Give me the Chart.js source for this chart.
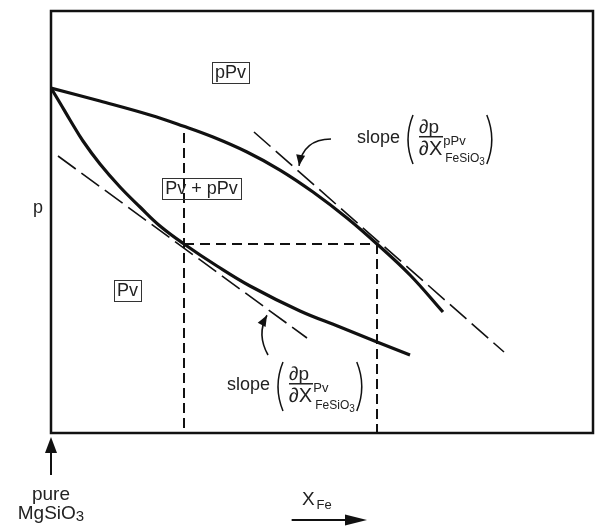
<!DOCTYPE html>
<html>
<head>
<meta charset="utf-8">
<script src="https://cdn.jsdelivr.net/npm/chart.js@4"></script>
<style>
  html, body { margin: 0; padding: 0; background: #fff; }
</style>
</head>
<body>
<canvas id="chart" width="598" height="527"></canvas>
<script>
// x = X_Fe (0 = pure MgSiO3), y = pressure p, both in arbitrary units 0..100
const ppvBoundaryX = [0, 9.04, 18.27, 24.35, 29.89, 36.16, 42.25, 48.34, 54.61, 60.15, 66.24, 72.32];
const ppvBoundaryP = [81.75, 78.67, 75.36, 72.75, 70.14, 66.59, 62.32, 57.11, 50.95, 44.79, 37.44, 28.67];

const pvBoundaryX = [0, 1.66, 3.51, 5.90, 9.04, 12.73, 16.42, 20.11, 24.54, 30.63, 36.72, 45.94, 53.32, 60.15, 66.24];
const pvBoundaryP = [81.75, 78.20, 74.17, 69.19, 63.74, 58.29, 53.55, 49.05, 44.79, 39.57, 34.83, 28.91, 25.12, 21.56, 18.48];

// tangent (slope) lines
const pvSlopeX = [1.29, 47.23];
const pvSlopeP = [65.64, 22.51];
const ppvSlopeX = [37.45, 83.58];
const ppvSlopeP = [71.33, 19.19];

// tie line at one pressure
const tieP = 44.79;
const xPv = 24.54;
const xPPv = 60.15;
const guideTop = 71.09;

const FONT = "'Liberation Sans', Arial, Helvetica, sans-serif";
const INK = "#111";

const pts = (xs, ys) => xs.map((x, i) => ({ x: x, y: ys[i] }));

function arrowHead(ctx, x, y, ang, len, half) {
  ctx.beginPath();
  ctx.moveTo(x, y);
  ctx.lineTo(x - len * Math.cos(ang) + half * Math.sin(ang), y - len * Math.sin(ang) - half * Math.cos(ang));
  ctx.lineTo(x - len * Math.cos(ang) - half * Math.sin(ang), y - len * Math.sin(ang) + half * Math.cos(ang));
  ctx.closePath();
  ctx.fill();
}

function curvedArrow(ctx, x0, y0, cx, cy, x1, y1) {
  ctx.beginPath();
  ctx.moveTo(x0, y0);
  ctx.quadraticCurveTo(cx, cy, x1, y1);
  ctx.lineWidth = 1.6;
  ctx.stroke();
  arrowHead(ctx, x1, y1, Math.atan2(y1 - cy, x1 - cx), 11, 4.5);
}

function boxLabel(ctx, txt, x, y) {
  ctx.font = "18px " + FONT;
  ctx.textAlign = "center";
  ctx.textBaseline = "middle";
  const w = ctx.measureText(txt).width;
  ctx.fillText(txt, x, y + 1);
  ctx.lineWidth = 1;
  ctx.strokeStyle = "#333";
  ctx.strokeRect(Math.round(x - w / 2 - 3) + 0.5, Math.round(y - 10) + 0.5, Math.round(w + 6), 21);
  ctx.strokeStyle = INK;
}

function paren(ctx, x, top, bot, dir) {
  const mid = (top + bot) / 2;
  ctx.beginPath();
  ctx.moveTo(x + 4 * dir, top);
  ctx.quadraticCurveTo(x - 6 * dir, mid, x + 4 * dir, bot);
  ctx.lineWidth = 1.5;
  ctx.stroke();
}

function slopeNote(ctx, sx, sy, sup) {
  ctx.textAlign = "left";
  ctx.textBaseline = "middle";
  ctx.font = "18px " + FONT;
  ctx.fillText("slope", sx, sy);
  paren(ctx, sx + 52, sy - 23, sy + 26, 1);
  const fx = sx + 62;
  ctx.textBaseline = "alphabetic";
  ctx.font = "19px " + FONT;
  ctx.fillText("\u2202p", fx, sy - 5);
  ctx.fillRect(fx, sy - 2, 24, 1.5);
  ctx.font = "20px " + FONT;
  ctx.fillText("\u2202X", fx, sy + 17);
  const dx = fx + ctx.measureText("\u2202X").width + 1;
  ctx.font = "13px " + FONT;
  ctx.fillText(sup, dx, sy + 7);
  const supEnd = dx + ctx.measureText(sup).width;
  ctx.font = "12px " + FONT;
  ctx.fillText("FeSiO", dx + 2, sy + 24);
  const sw = ctx.measureText("FeSiO").width;
  ctx.font = "10px " + FONT;
  ctx.fillText("3", dx + 2 + sw, sy + 27);
  const subEnd = dx + 2 + sw + ctx.measureText("3").width;
  paren(ctx, Math.max(supEnd, subEnd) + 6, sy - 23, sy + 26, -1);
}

const notes = {
  id: "notes",
  afterDraw(chart) {
    const ctx = chart.ctx;
    const a = chart.chartArea;
    const X = v => chart.scales.x.getPixelForValue(v);
    const Y = v => chart.scales.y.getPixelForValue(v);
    ctx.save();
    ctx.fillStyle = INK;
    ctx.strokeStyle = INK;

    // frame
    ctx.lineWidth = 2.5;
    ctx.strokeRect(a.left, a.top, a.right - a.left, a.bottom - a.top);

    // phase labels
    ctx.fillStyle = "#222";
    boxLabel(ctx, "pPv", X(33.12), Y(85.55));
    boxLabel(ctx, "Pv + pPv", X(27.77), Y(57.94));
    boxLabel(ctx, "Pv", X(14.11), Y(33.89));

    // slope annotations
    slopeNote(ctx, X(56.46), Y(69.91), "pPv");
    slopeNote(ctx, X(32.47), Y(11.37), "Pv");
    ctx.fillStyle = INK;
    curvedArrow(ctx, X(51.66), Y(69.67), X(46.5), Y(69.6), X(45.76), Y(63.3));
    curvedArrow(ctx, X(40.04), Y(18.48), X(37.9), Y(23.4), X(39.85), Y(27.9));

    // axis label p
    ctx.fillStyle = "#222";
    ctx.font = "18px " + FONT;
    ctx.textAlign = "center";
    ctx.textBaseline = "middle";
    ctx.fillText("p", a.left - 13, Y(53.3));

    // pure MgSiO3 marker
    ctx.strokeStyle = INK;
    ctx.fillStyle = INK;
    ctx.lineWidth = 2;
    ctx.beginPath();
    ctx.moveTo(a.left, a.bottom + 42);
    ctx.lineTo(a.left, a.bottom + 12);
    ctx.stroke();
    arrowHead(ctx, a.left, a.bottom + 4, -Math.PI / 2, 16, 6);
    ctx.fillStyle = "#222";
    ctx.font = "19px " + FONT;
    ctx.textBaseline = "alphabetic";
    ctx.fillText("pure", a.left, a.bottom + 67);
    const mw = ctx.measureText("MgSiO").width;
    ctx.font = "15px " + FONT;
    const tw = ctx.measureText("3").width;
    ctx.textAlign = "left";
    ctx.font = "19px " + FONT;
    ctx.fillText("MgSiO", a.left - (mw + tw) / 2, a.bottom + 86);
    ctx.font = "15px " + FONT;
    ctx.fillText("3", a.left - (mw + tw) / 2 + mw, a.bottom + 88);

    // X_Fe direction
    ctx.font = "19px " + FONT;
    ctx.fillText("X", X(46.3), a.bottom + 72);
    const xw = ctx.measureText("X").width;
    ctx.font = "13px " + FONT;
    ctx.fillText("Fe", X(46.3) + xw + 2, a.bottom + 76);
    ctx.fillStyle = INK;
    ctx.lineWidth = 2;
    ctx.beginPath();
    ctx.moveTo(X(44.4), a.bottom + 87);
    ctx.lineTo(X(55.7), a.bottom + 87);
    ctx.stroke();
    arrowHead(ctx, X(58.3), a.bottom + 87, 0, 22, 5.5);
    ctx.restore();
  }
};

const ctx = document.getElementById("chart").getContext("2d");
new Chart(ctx, {
  type: "scatter",
  data: {
    datasets: [
      { data: pts(ppvBoundaryX, ppvBoundaryP), showLine: true, borderColor: INK, borderWidth: 3.2,
        pointRadius: 0, tension: 0.4 },
      { data: pts(pvBoundaryX, pvBoundaryP), showLine: true, borderColor: INK, borderWidth: 3.2,
        pointRadius: 0, tension: 0.4 },
      { data: pts(pvSlopeX, pvSlopeP), showLine: true, borderColor: INK, borderWidth: 1.6,
        borderDash: [22, 7], pointRadius: 0 },
      { data: pts(ppvSlopeX, ppvSlopeP), showLine: true, borderColor: INK, borderWidth: 1.6,
        borderDash: [22, 7], pointRadius: 0 },
      { data: pts([xPv, xPv], [guideTop, 0]), showLine: true, borderColor: INK, borderWidth: 2,
        borderDash: [10, 5], pointRadius: 0 },
      { data: pts([xPPv, xPPv], [tieP, 0]), showLine: true, borderColor: INK, borderWidth: 2,
        borderDash: [10, 5], pointRadius: 0 },
      { data: pts([xPv, xPPv], [tieP, tieP]), showLine: true, borderColor: INK, borderWidth: 2,
        borderDash: [10, 6], pointRadius: 0 }
    ]
  },
  options: {
    responsive: false,
    animation: false,
    layout: { padding: { left: 51, top: 11, right: 5, bottom: 94 } },
    plugins: { legend: { display: false }, tooltip: { enabled: false } },
    scales: {
      x: { type: "linear", min: 0, max: 100, display: false },
      y: { type: "linear", min: 0, max: 100, display: false }
    }
  },
  plugins: [notes]
});
</script>
</body>
</html>
